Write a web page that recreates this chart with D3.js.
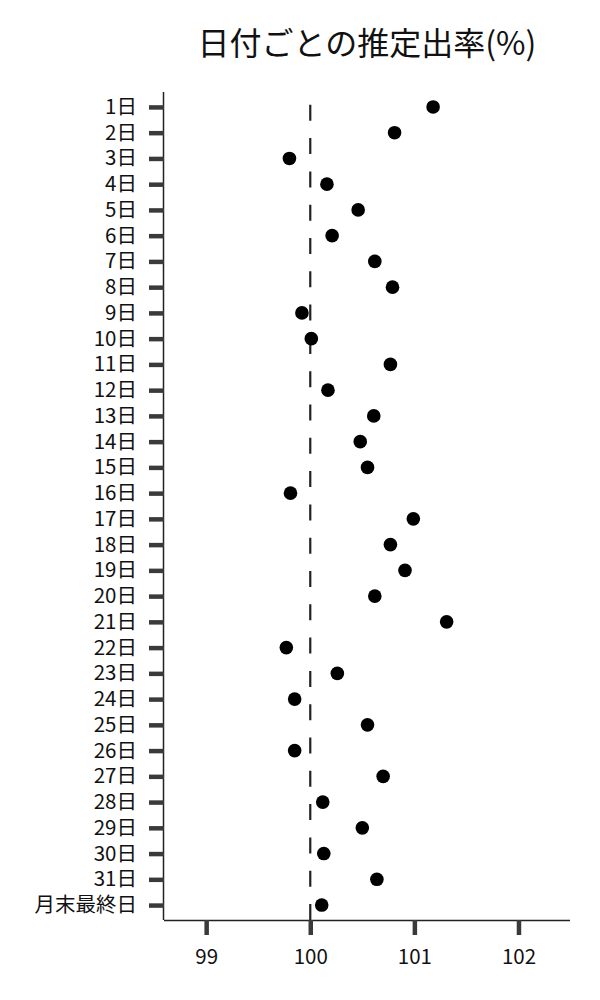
<!DOCTYPE html>
<html>
<head>
<meta charset="utf-8">
<script src="https://cdn.jsdelivr.net/npm/d3@7"></script>
<style>
  body { margin: 0; background: #fff; }
  svg { font-family: "Noto Sans CJK JP", "Noto Sans", sans-serif; }
</style>
</head>
<body>
<svg id="chart"></svg>
<script>
const days = [
  "1日", "2日", "3日", "4日", "5日", "6日", "7日", "8日", "9日", "10日",
  "11日", "12日", "13日", "14日", "15日", "16日", "17日", "18日", "19日", "20日",
  "21日", "22日", "23日", "24日", "25日", "26日", "27日", "28日", "29日", "30日",
  "31日", "月末最終日"
];
const rates = [
  101.18, 100.81, 99.80, 100.16, 100.46, 100.21, 100.62, 100.79, 99.92, 100.01,
  100.77, 100.17, 100.61, 100.48, 100.55, 99.81, 100.99, 100.77, 100.91, 100.62,
  101.31, 99.77, 100.26, 99.85, 100.55, 99.85, 100.70, 100.12, 100.50, 100.13,
  100.64, 100.11
];
const xTicks = [99, 100, 101, 102];
const baseline = 100;

const width = 600;
const height = 1000;
const margin = {top: 92, right: 30, bottom: 80, left: 164};

const svg = d3.select("#chart")
  .attr("width", width)
  .attr("height", height);

const x = d3.scaleLinear()
  .domain([98.595, 102.495])
  .range([margin.left, width - margin.right]);

const y = d3.scalePoint()
  .domain(days)
  .range([margin.top, height - margin.bottom])
  .padding(0.58);

// title
svg.append("text")
  .attr("x", (margin.left + width - margin.right) / 2)
  .attr("y", 55)
  .attr("text-anchor", "middle")
  .attr("font-size", 32)
  .attr("fill", "#111")
  .text("日付ごとの推定出率(%)");

// axes
const xAxis = svg.append("g")
  .attr("transform", `translate(0, ${height - margin.bottom})`)
  .call(d3.axisBottom(x).tickValues(xTicks).tickSize(15).tickPadding(14).tickFormat(d3.format("d")));

const yAxis = svg.append("g")
  .attr("transform", `translate(${margin.left}, 0)`)
  .call(d3.axisLeft(y).tickSize(15).tickPadding(12));

[xAxis, yAxis].forEach(g => {
  g.select(".domain").attr("stroke", "#222").attr("stroke-width", 1.5);
  g.selectAll(".tick line").attr("stroke", "#3a3a3a").attr("stroke-width", 4.5);
  g.selectAll(".tick text")
    .attr("font-size", 20.5)
    .attr("font-family", "'Noto Sans CJK JP', 'Noto Sans', sans-serif")
    .attr("fill", "#111");
});
// axisBottom/axisLeft draw outer ticks in the domain path; keep only spines
xAxis.select(".domain").attr("d", `M${margin.left},0.5H${width - margin.right}`);
yAxis.select(".domain").attr("d", `M-0.5,${margin.top}V${height - margin.bottom}`);

// reference line at 100, dashes start from the bottom
svg.append("line")
  .attr("x1", x(baseline))
  .attr("x2", x(baseline))
  .attr("y1", height - margin.bottom)
  .attr("y2", margin.top)
  .attr("stroke", "#222")
  .attr("stroke-width", 2.2)
  .attr("stroke-dasharray", "16,17.3");

// points
svg.append("g")
  .selectAll("circle")
  .data(days)
  .join("circle")
  .attr("cx", (d, i) => x(rates[i]))
  .attr("cy", d => y(d))
  .attr("r", 6.8)
  .attr("fill", "#000");
</script>
</body>
</html>
